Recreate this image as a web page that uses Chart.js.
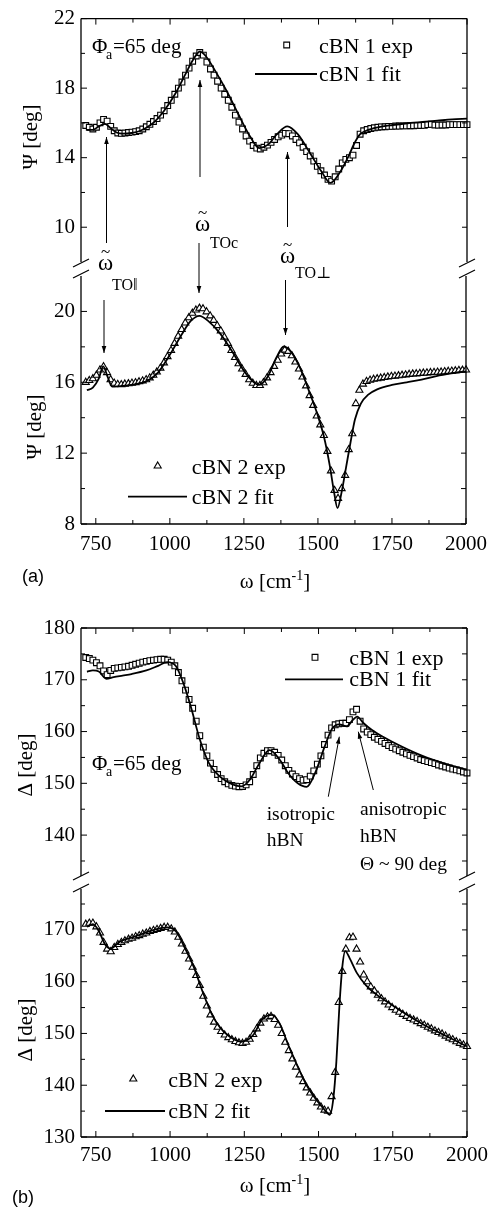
<!DOCTYPE html>
<html>
<head>
<meta charset="utf-8">
<title>cBN ellipsometry</title>
<script src="https://cdn.jsdelivr.net/npm/chart.js@4.4.0/dist/chart.umd.min.js"></script>
<style>
  html, body { margin: 0; padding: 0; background: #fff; }
  #page { position: relative; width: 495px; height: 1207px; overflow: hidden; background: #fff; }
  #page canvas { position: absolute; left: 0; }
</style>
</head>
<body>
<div id="page">
  <canvas id="psiTop" width="495" height="300" style="top:0px"></canvas>
  <canvas id="psiBottom" width="495" height="350" style="top:250px"></canvas>
  <canvas id="deltaTop" width="495" height="300" style="top:600px"></canvas>
  <canvas id="deltaBottom" width="495" height="337" style="top:870px"></canvas>
</div>
<script>
const SERIF = '"Liberation Serif", "DejaVu Serif", serif';
const SANS = '"Liberation Sans", Arial, sans-serif';

// measured spectra (wavenumber in cm-1)
const wavenumber = [
  716, 728, 740, 752, 764, 776, 788, 800, 812, 824, 836, 848,
  860, 872, 884, 896, 908, 920, 932, 944, 956, 968, 980, 992,
  1004, 1016, 1028, 1040, 1052, 1064, 1076, 1088, 1100, 1112, 1124, 1136,
  1148, 1160, 1172, 1184, 1196, 1208, 1220, 1232, 1244, 1256, 1268, 1280,
  1292, 1304, 1316, 1328, 1340, 1352, 1364, 1376, 1388, 1400, 1412, 1424,
  1436, 1448, 1460, 1472, 1484, 1496, 1508, 1520, 1532, 1544, 1556, 1568,
  1580, 1592, 1604, 1616, 1628, 1640, 1652, 1664, 1676, 1688, 1700, 1712,
  1724, 1736, 1748, 1760, 1772, 1784, 1796, 1808, 1820, 1832, 1844, 1856,
  1868, 1880, 1892, 1904, 1916, 1928, 1940, 1952, 1964, 1976, 1988, 2000
];

const psi1Exp = [
  15.85, 15.75, 15.65, 15.75, 16.0, 16.2, 16.1, 15.8, 15.55, 15.42, 15.4, 15.42,
  15.45, 15.47, 15.5, 15.55, 15.65, 15.78, 15.92, 16.08, 16.25, 16.45, 16.7, 17.0,
  17.3, 17.65, 18.0, 18.35, 18.75, 19.15, 19.55, 19.85, 20.05, 19.9, 19.5, 19.1,
  18.75, 18.4, 18.0, 17.65, 17.3, 16.9, 16.45, 16.05, 15.65, 15.25, 14.95, 14.7,
  14.55, 14.5, 14.6, 14.72, 14.88, 15.05, 15.2, 15.3, 15.4, 15.38, 15.25, 15.05,
  14.85, 14.6, 14.35, 14.1, 13.8, 13.5, 13.25, 13.0, 12.75, 12.65, 12.9, 13.35,
  13.7, 13.9, 14.0, 14.15, 14.7, 15.35, 15.55, 15.62, 15.68, 15.72, 15.75, 15.77,
  15.78, 15.8, 15.8, 15.82, 15.82, 15.83, 15.83, 15.84, 15.84, 15.85, 15.85, 15.86,
  15.9, 15.92, 15.88, 15.87, 15.88, 15.88, 15.9, 15.9, 15.9, 15.9, 15.9, 15.9
];
const psi2Exp = [
  16.0, 16.1, 16.2, 16.4, 16.7, 16.88, 16.55, 16.15, 15.95, 15.88, 15.87, 15.9,
  15.92, 15.95, 15.98, 16.03, 16.08, 16.15, 16.25, 16.4, 16.58, 16.8, 17.1, 17.45,
  17.8, 18.2, 18.6, 18.98, 19.35, 19.65, 19.9, 20.08, 20.18, 20.15, 19.98, 19.75,
  19.5, 19.2, 18.9, 18.55, 18.2, 17.8, 17.4, 17.05, 16.75, 16.45, 16.15, 15.95,
  15.82, 15.82, 15.98, 16.25, 16.55, 16.9, 17.25, 17.6, 17.82, 17.75, 17.5, 17.15,
  16.75, 16.3, 15.8, 15.25, 14.7, 14.1, 13.6, 13.0, 12.1, 11.0, 9.9, 9.45,
  10.0, 10.75, 12.2, 13.1, 14.8, 15.55, 15.9, 16.05, 16.12, 16.17, 16.2, 16.24,
  16.27, 16.3, 16.33, 16.35, 16.37, 16.4, 16.42, 16.45, 16.47, 16.48, 16.5, 16.52,
  16.53, 16.55, 16.56, 16.57, 16.58, 16.6, 16.62, 16.63, 16.65, 16.67, 16.68, 16.7
];
const delta1Exp = [
  174.3, 174.1, 173.8, 173.3, 172.7, 171.7, 171.0, 171.8, 172.2, 172.3, 172.4, 172.5,
  172.6, 172.8, 173.0, 173.2, 173.4, 173.55, 173.7, 173.8, 173.9, 173.95, 173.95, 173.8,
  173.4, 172.7, 171.4, 169.8, 168.0, 166.2, 164.5, 162.0, 159.2, 157.0, 155.3, 153.9,
  152.7, 151.7, 150.9, 150.3, 149.9, 149.6, 149.45, 149.35, 149.4, 149.7, 150.3, 151.7,
  153.4, 154.9, 155.8, 156.3, 156.3, 156.0, 155.4, 154.5, 153.4, 152.5, 151.8, 151.3,
  150.9, 150.6, 150.7, 151.4, 152.4, 153.7, 155.3, 157.5, 159.3, 160.7, 161.3, 161.5,
  161.6, 161.6, 162.3, 163.8, 164.3, 162.0, 160.5, 159.9, 159.4, 158.9, 158.5, 158.1,
  157.7, 157.3, 156.9, 156.6, 156.3, 156.0, 155.7, 155.4, 155.15, 154.9, 154.6, 154.4,
  154.2, 154.0, 153.8, 153.55, 153.35, 153.15, 152.95, 152.75, 152.6, 152.4, 152.2, 152.0
];
const delta2Exp = [
  171.1, 171.3, 171.3, 170.6, 169.4, 167.6, 166.3, 165.8, 166.6, 167.2, 167.6, 167.9,
  168.2, 168.4, 168.7, 168.9, 169.2, 169.4, 169.7, 169.9, 170.1, 170.3, 170.5, 170.5,
  170.2, 169.6, 168.6, 167.3, 165.9, 164.4, 162.8, 161.2, 159.3, 157.2, 155.3, 153.6,
  152.2, 151.2, 150.4, 149.7, 149.2, 148.8, 148.45, 148.2, 148.1, 148.3, 148.9, 149.8,
  150.9, 152.0, 152.8, 153.2, 153.3, 152.7, 151.6, 150.0, 148.3, 146.7, 145.1, 143.5,
  142.0, 140.7, 139.5, 138.5, 137.5, 136.6, 135.8, 135.2, 135.0, 137.8, 142.5, 156.0,
  162.0, 166.3, 168.5, 168.6, 166.3, 163.8, 161.3, 160.0, 159.0, 158.2, 157.4, 156.7,
  156.1, 155.5, 155.0, 154.5, 154.1, 153.7, 153.3, 152.9, 152.6, 152.3, 151.9, 151.6,
  151.2, 150.9, 150.5, 150.2, 149.9, 149.5, 149.1, 148.8, 148.4, 148.1, 147.8, 147.5
];

// model fits
const psi1FitX = [720, 740, 760, 780, 800, 820, 840, 870, 900, 940, 980, 1020, 1050, 1080, 1100, 1120, 1150, 1190, 1230, 1270,
  1300, 1330, 1360, 1395, 1430, 1470, 1510, 1540, 1570, 1600, 1620, 1640, 1660, 1700, 1750, 1800, 1850, 1900, 1950, 2000];
const psi1Fit = [15.6, 15.6, 15.8, 15.95, 15.7, 15.45, 15.38, 15.42, 15.55, 15.95, 16.7, 17.75, 18.75, 19.7, 20.1, 19.85, 19.05, 17.85, 16.5, 15.2,
  14.55, 14.75, 15.35, 15.8, 15.35, 14.3, 13.2, 12.55, 13.1, 14.05, 14.8, 15.35, 15.55, 15.75, 15.88, 15.98, 16.06, 16.13, 16.2, 16.25];

const psi2FitX = [720, 740, 760, 775, 790, 805, 830, 870, 920, 960, 1000, 1040, 1070, 1100, 1130, 1170, 1210, 1250, 1280, 1300, 1330, 1360,
  1385, 1410, 1440, 1470, 1500, 1520, 1540, 1555, 1566, 1580, 1595, 1610, 1625, 1645, 1670, 1700, 1750, 1800, 1850, 1900, 1950, 2000];
const psi2Fit = [15.55, 15.7, 16.2, 16.9, 16.3, 15.75, 15.78, 15.85, 16.05, 16.55, 17.55, 18.7, 19.45, 19.75, 19.45, 18.75, 17.75, 16.65, 16.05, 15.85, 16.3, 17.4,
  18.02, 17.7, 16.8, 15.5, 14.1, 12.95, 11.3, 9.75, 8.9, 9.8, 11.2, 12.6, 13.9, 14.8, 15.3, 15.6, 15.85, 16.0, 16.15, 16.35, 16.5, 16.62];

const delta1FitX = [720, 740, 760, 785, 810, 840, 870, 920, 960, 990, 1020, 1045, 1070, 1100, 1130, 1170, 1210, 1240, 1270, 1300,
  1335, 1370, 1400, 1430, 1460, 1490, 1520, 1545, 1570, 1595, 1615, 1630, 1650, 1680, 1720, 1780, 1850, 1920, 2000];
const delta1Fit = [171.55, 171.8, 171.6, 170.2, 170.5, 170.8, 171.1, 171.8, 172.7, 173.4, 172.6, 169.3, 164.8, 158.5, 154.0, 151.2, 149.8, 149.4, 150.8, 153.8,
  156.4, 154.5, 151.8, 150.0, 149.3, 152.2, 157.0, 160.5, 161.4, 161.0, 162.2, 162.9, 161.7, 160.3, 158.9, 157.1, 155.3, 153.9, 152.6];

const delta2FitX = [720, 740, 760, 780, 800, 830, 880, 940, 990, 1020, 1050, 1080, 1110, 1140, 1170, 1200, 1240, 1280, 1310, 1345, 1370,
  1400, 1430, 1460, 1490, 1520, 1538, 1550, 1560, 1570, 1580, 1590, 1605, 1630, 1660, 1700, 1750, 1800, 1860, 1930, 2000];
const delta2Fit = [170.6, 171.1, 169.8, 167.3, 166.4, 167.7, 168.7, 169.9, 170.5, 169.7, 166.5, 162.8, 158.0, 153.8, 151.0, 149.4, 148.4, 149.7, 152.7, 153.6, 151.8,
  147.5, 143.6, 140.0, 137.4, 135.3, 134.3, 137.5, 144.5, 155.0, 162.8, 165.9, 164.5, 161.6, 159.3, 157.3, 155.4, 153.5, 151.5, 149.5, 147.5];

// ticks
const xTicks = [750, 875, 1000, 1125, 1250, 1375, 1500, 1625, 1750, 1875, 2000];
const xLabels = [750, 1000, 1250, 1500, 1750, 2000];
const psiTopTicks = [10, 12, 14, 16, 18, 20, 22];
const psiTopLabels = [10, 14, 18, 22];
const psiBottomTicks = [8, 10, 12, 14, 16, 18, 20];
const psiBottomLabels = [8, 12, 16, 20];
const deltaTopTicks = [135, 140, 145, 150, 155, 160, 165, 170, 175, 180];
const deltaTopLabels = [140, 150, 160, 170, 180];
const deltaBottomTicks = [130, 135, 140, 145, 150, 155, 160, 165, 170, 175];
const deltaBottomLabels = [130, 140, 150, 160, 170];

function pts(xs, ys) {
  return xs.map((x, i) => ({ x: x, y: ys[i] }));
}

// ---- little drawing helpers for the annotations ----
function text(ctx, s, x, y, size, font, align) {
  ctx.font = size + 'px ' + (font || SERIF);
  ctx.textAlign = align || 'left';
  ctx.textBaseline = 'alphabetic';
  ctx.fillText(s, x, y);
}

function vtext(ctx, s, cx, cy, size) {
  ctx.save();
  ctx.translate(cx, cy);
  ctx.rotate(-Math.PI / 2);
  ctx.font = size + 'px ' + SERIF;
  ctx.textAlign = 'center';
  ctx.textBaseline = 'middle';
  ctx.fillText(s, 0, 0);
  ctx.restore();
}

function arrow(ctx, x1, y1, x2, y2) {
  ctx.lineWidth = 1;
  ctx.beginPath();
  ctx.moveTo(x1, y1);
  ctx.lineTo(x2, y2);
  ctx.stroke();
  const a = Math.atan2(y2 - y1, x2 - x1), L = 7, w = 2.3;
  ctx.beginPath();
  ctx.moveTo(x2, y2);
  ctx.lineTo(x2 - L * Math.cos(a) + w * Math.sin(a), y2 - L * Math.sin(a) - w * Math.cos(a));
  ctx.lineTo(x2 - L * Math.cos(a) - w * Math.sin(a), y2 - L * Math.sin(a) + w * Math.cos(a));
  ctx.closePath();
  ctx.fill();
}

function slashes(ctx, x, ys) {
  ctx.lineWidth = 1.2;
  ctx.beginPath();
  ys.forEach(y => { ctx.moveTo(x - 8, y + 4); ctx.lineTo(x + 8, y - 4); });
  ctx.stroke();
}

function omega(ctx, x, y, sub, subX, subY) {
  text(ctx, 'ω', x, y, 23);
  ctx.font = '23px ' + SERIF;
  const w = ctx.measureText('ω').width;
  text(ctx, '~', x + w / 2, y - 13, 17, SERIF, 'center');
  text(ctx, sub, subX, subY, 16);
}

function phi(ctx, y) {
  text(ctx, 'Φ', 92, y, 21);
  text(ctx, 'a', 106, y + 6, 14);
  text(ctx, '=65 deg', 113, y, 21);
}

function legend(ctx, marker, x, y, label1, lineX1, lineX2, ly, label2, tx) {
  ctx.lineWidth = 1.1;
  ctx.fillStyle = '#fff';
  ctx.beginPath();
  if (marker === 'rect') {
    ctx.rect(x - 2.9, y - 2.9, 5.8, 5.8);
  } else {
    const r = 4.1;
    ctx.moveTo(x, y - r);
    ctx.lineTo(x + r * 0.866, y + r * 0.5);
    ctx.lineTo(x - r * 0.866, y + r * 0.5);
    ctx.closePath();
  }
  ctx.fill();
  ctx.stroke();
  ctx.fillStyle = '#000';
  text(ctx, label1, tx, y + 8, 22);
  ctx.lineWidth = 1.8;
  ctx.beginPath();
  ctx.moveTo(lineX1, ly);
  ctx.lineTo(lineX2, ly);
  ctx.stroke();
  text(ctx, label2, tx, ly + 7, 22);
}

function xTitle(ctx, cx, y) {
  ctx.font = '21px ' + SERIF;
  const a = 'ω [cm', c = ']';
  const wa = ctx.measureText(a).width, wc = ctx.measureText(c).width;
  ctx.font = '14px ' + SERIF;
  const wb = ctx.measureText('-1').width;
  let x = cx - (wa + wb + wc) / 2;
  text(ctx, a, x, y, 21);
  text(ctx, '-1', x + wa, y - 8, 14);
  text(ctx, c, x + wa + wb, y, 21);
}

// frame, inward ticks and the per-panel annotations
function decor(p) {
  return {
    id: 'decor',
    afterDraw(chart) {
      const ctx = chart.ctx, a = chart.chartArea, xs = chart.scales.x, ys = chart.scales.y;
      ctx.save();
      ctx.strokeStyle = '#000';
      ctx.fillStyle = '#000';
      ctx.lineWidth = 1.3;
      ctx.beginPath();
      ctx.moveTo(a.left, a.top); ctx.lineTo(a.left, a.bottom);
      ctx.moveTo(a.right, a.top); ctx.lineTo(a.right, a.bottom);
      if (p.upper) { ctx.moveTo(a.left, a.top); ctx.lineTo(a.right, a.top); }
      else { ctx.moveTo(a.left, a.bottom); ctx.lineTo(a.right, a.bottom); }
      ctx.stroke();

      ctx.lineWidth = 1;
      ctx.beginPath();
      p.yTicks.forEach(v => {
        const y = ys.getPixelForValue(v);
        const len = p.yLabels.includes(v) ? 6 : 4;
        ctx.moveTo(a.left, y); ctx.lineTo(a.left + len, y);
        ctx.moveTo(a.right, y); ctx.lineTo(a.right - 5, y);
      });
      xTicks.forEach(v => {
        const x = xs.getPixelForValue(v);
        const len = xLabels.includes(v) ? 6 : 4;
        if (p.upper) { ctx.moveTo(x, a.top); ctx.lineTo(x, a.top + len); }
        else { ctx.moveTo(x, a.bottom); ctx.lineTo(x, a.bottom - len); }
      });
      ctx.stroke();

      ctx.translate(0, -p.offset);
      p.extra(ctx);
      ctx.restore();
    }
  };
}

function panel(id, p) {
  return new Chart(document.getElementById(id), {
    type: 'line',
    data: {
      datasets: [
        {
          label: p.fitLabel,
          data: pts(p.fitX, p.fit),
          borderColor: '#000',
          borderWidth: 1.8,
          pointRadius: 0,
          cubicInterpolationMode: 'monotone',
          fill: false,
          order: 0
        },
        {
          label: p.expLabel,
          data: pts(wavenumber, p.exp),
          showLine: false,
          pointStyle: p.marker,
          pointRadius: p.marker === 'rect' ? 4.1 : 4.1,
          pointBorderWidth: 1.1,
          pointBorderColor: '#000',
          pointBackgroundColor: '#fff',
          clip: 8,
          order: 1
        }
      ]
    },
    options: {
      responsive: false,
      animation: false,
      devicePixelRatio: 1,
      events: [],
      layout: { padding: { top: p.padTop, bottom: p.padBottom, left: 0, right: 28 } },
      plugins: { legend: { display: false }, tooltip: { enabled: false } },
      scales: {
        x: {
          type: 'linear',
          min: 700,
          max: 2000,
          position: 'bottom',
          display: !p.upper,
          afterFit: s => { s.height = p.xHeight || 0; },
          afterBuildTicks: s => { s.ticks = xTicks.map(v => ({ value: v })); },
          ticks: {
            callback: v => xLabels.includes(v) ? String(v) : '',
            font: { family: SERIF, size: 21 },
            color: '#000',
            padding: p.xPad || 8,
            maxRotation: 0,
            autoSkip: false
          },
          grid: { display: false, drawTicks: false },
          border: { display: false }
        },
        y: {
          type: 'linear',
          min: p.yMin,
          max: p.yMax,
          afterFit: s => { s.width = 81; },
          afterBuildTicks: s => { s.ticks = p.yTicks.map(v => ({ value: v })); },
          ticks: {
            callback: v => p.yLabels.includes(v) ? String(v) : '',
            font: { family: SERIF, size: 21 },
            color: '#000',
            padding: 6,
            autoSkip: false
          },
          grid: { display: false, drawTicks: false },
          border: { display: false }
        }
      }
    },
    plugins: [decor(p)]
  });
}

// (a) Psi, upper part
panel('psiTop', {
  upper: true, offset: 0, padTop: 16, padBottom: 38,
  yMin: 8, yMax: 22, yTicks: psiTopTicks, yLabels: psiTopLabels,
  fitX: psi1FitX, fit: psi1Fit, exp: psi1Exp, marker: 'rect',
  fitLabel: 'cBN 1 fit', expLabel: 'cBN 1 exp',
  extra: ctx => {
    slashes(ctx, 81, [263, 274]);
    slashes(ctx, 467, [263, 274]);
    phi(ctx, 53);
    legend(ctx, 'rect', 286.7, 45, 'cBN 1 exp', 255, 317, 74, 'cBN 1 fit', 319);
    vtext(ctx, 'Ψ [deg]', 31, 137, 21);
    arrow(ctx, 106.5, 243, 106.5, 137);
    arrow(ctx, 200, 177, 200, 80);
    arrow(ctx, 199, 243, 199, 293);
    arrow(ctx, 287.5, 227, 287.5, 152);
    omega(ctx, 98, 270, 'TO‖', 112, 290);
    omega(ctx, 195, 231, 'TOc', 210, 248);
    omega(ctx, 280, 263, 'TO⊥', 295, 278);
  }
});

// (a) Psi, lower part
panel('psiBottom', {
  upper: false, offset: 250, padTop: 26, padBottom: 0, xHeight: 76, xPad: 8,
  yMin: 8, yMax: 22, yTicks: psiBottomTicks, yLabels: psiBottomLabels,
  fitX: psi2FitX, fit: psi2Fit, exp: psi2Exp, marker: 'triangle',
  fitLabel: 'cBN 2 fit', expLabel: 'cBN 2 exp',
  extra: ctx => {
    arrow(ctx, 104, 300, 104, 353);
    arrow(ctx, 285.5, 280, 285.5, 335);
    legend(ctx, 'triangle', 157.7, 466, 'cBN 2 exp', 128, 187, 496.7, 'cBN 2 fit', 191.7);
    vtext(ctx, 'Ψ [deg]', 35, 427, 21);
    xTitle(ctx, 275, 588);
    text(ctx, '(a)', 22, 582, 18, SANS);
  }
});

// (b) Delta, upper part
panel('deltaTop', {
  upper: true, offset: 600, padTop: 28, padBottom: 24,
  yMin: 132.1, yMax: 180, yTicks: deltaTopTicks, yLabels: deltaTopLabels,
  fitX: delta1FitX, fit: delta1Fit, exp: delta1Exp, marker: 'rect',
  fitLabel: 'cBN 1 fit', expLabel: 'cBN 1 exp',
  extra: ctx => {
    slashes(ctx, 81, [876, 888]);
    slashes(ctx, 467, [876, 888]);
    phi(ctx, 770);
    legend(ctx, 'rect', 315, 657.3, 'cBN 1 exp', 285, 343, 679.3, 'cBN 1 fit', 349.3);
    vtext(ctx, 'Δ [deg]', 26, 765, 21);
    arrow(ctx, 328.3, 796.7, 339.3, 736.7);
    arrow(ctx, 373.3, 790, 358.3, 731.7);
    text(ctx, 'isotropic', 266.7, 820, 19.5);
    text(ctx, 'hBN', 266.7, 846, 19.5);
    text(ctx, 'anisotropic', 360, 815, 19.5);
    text(ctx, 'hBN', 360, 842, 19.5);
    text(ctx, 'Θ ~ 90 deg', 360, 870, 19.5);
  }
});

// (b) Delta, lower part
panel('deltaBottom', {
  upper: false, offset: 870, padTop: 19, padBottom: 0, xHeight: 70, xPad: 6,
  yMin: 130, yMax: 177.9, yTicks: deltaBottomTicks, yLabels: deltaBottomLabels,
  fitX: delta2FitX, fit: delta2Fit, exp: delta2Exp, marker: 'triangle',
  fitLabel: 'cBN 2 fit', expLabel: 'cBN 2 exp',
  extra: ctx => {
    legend(ctx, 'triangle', 133.3, 1079, 'cBN 2 exp', 105, 165, 1111, 'cBN 2 fit', 168.3);
    vtext(ctx, 'Δ [deg]', 26, 1030, 21);
    xTitle(ctx, 275, 1192);
    text(ctx, '(b)', 12, 1203, 18, SANS);
  }
});
</script>
</body>
</html>
